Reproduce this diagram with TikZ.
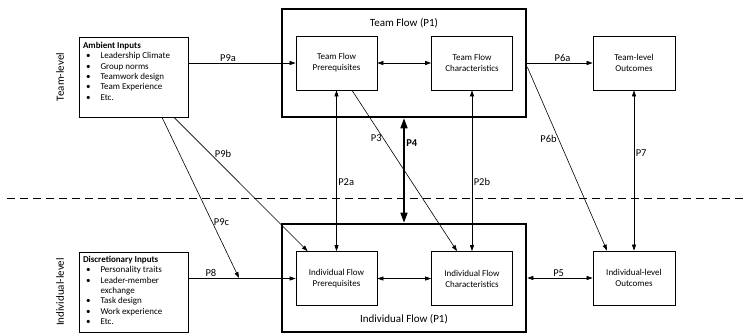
\documentclass[tikz,border=0pt]{standalone}
\usepackage{fontspec}
\setmainfont{Carlito}
\usetikzlibrary{arrows.meta}
\tikzstyle{flowBox}=[shape = rectangle, draw, line width = 0.7pt, minimum width = 81pt, minimum height = 54pt, inner sep = 0pt, align = center, font = \fontsize{9}{11}\selectfont]
\tikzstyle{bigBox}=[shape = rectangle, draw, line width = 2.6pt, minimum width = 244pt, minimum height = 108pt, inner sep = 0pt]
\tikzstyle{inputBox}=[shape = rectangle, draw, line width = 0.7pt, minimum width = 109pt, minimum height = 80pt, inner sep = 4pt, font = \fontsize{9}{10.4}\selectfont]
\newcommand{\bitem}{\makebox[17.5pt][l]{\hspace{3pt}\textbullet}}

\begin{document}
\begin{tikzpicture}[x = 1pt, y = -1pt]
\tikzstyle{arr}=[line width = 0.6pt, -{Triangle[length = 6pt, width = 4pt]}]
\tikzstyle{biarr}=[line width = 0.6pt, {Triangle[length = 6pt, width = 4pt]}-{Triangle[length = 6pt, width = 4pt]}]
\tikzstyle{lbl}=[font = \fontsize{10.5}{12}\selectfont, inner sep = 1.5pt]
\tikzstyle{title}=[font = \fontsize{11}{13}\selectfont]
\tikzstyle{levelStyle}=[font = \fontsize{11}{13}\selectfont, rotate = 90]
\useasboundingbox (0,0) rectangle (743,335);
% levels
\node[levelStyle] (tlev) at (60,77) {Team-level};
\node[levelStyle] (ilev) at (60,292) {Individual-level};
\coordinate (dashL) at (7,198);
\coordinate (dashR) at (743,198);
\draw[line width = 0.6pt, dash pattern = on 8pt off 5pt] (dashL) -- (dashR);
% inputs
\node[inputBox] (amb) at (133.5,77) {\parbox[c][72pt][t]{101pt}{\raggedright\vspace*{1pt}\textbf{Ambient Inputs}\\
\bitem Leadership Climate\\
\bitem Group norms\\
\bitem Teamwork design\\
\bitem Team Experience\\
\bitem Etc.}};
\node[inputBox] (disc) at (133.5,292) {\parbox[c][72pt][t]{101pt}{\raggedright\textbf{Discretionary Inputs}\\
\bitem Personality traits\\
\bitem Leader-member\\
\hspace*{17.5pt}exchange\\
\bitem Task design\\
\bitem Work experience\\
\bitem Etc.}};
% flow boxes
\node[bigBox] (tflow) at (404,63) {};
\node[bigBox] (iflow) at (404,278) {};
\node[title] (tftitle) at (404,23) {Team Flow (P1)};
\node[title] (iftitle) at (404,319) {Individual Flow (P1)};
\node[flowBox] (tfp) at (336.5,63) {Team Flow\\Prerequisites};
\node[flowBox] (tfc) at (472,63) {Team Flow\\Characteristics};
\node[flowBox] (ifp) at (336.5,278.5) {Individual Flow\\Prerequisites};
\node[flowBox] (ifc) at (472,278.5) {Individual Flow\\Characteristics};
% outcomes
\node[flowBox, minimum width = 82pt] (tlo) at (634,63) {Team-level\\Outcomes};
\node[flowBox, minimum width = 82pt] (ilo) at (634,278) {Individual-level\\Outcomes};
% connectors
\coordinate (p9cEnd) at (239,278);
\draw[arr] (amb.east |- tfp.west) -- node[lbl, above, pos = 0.37] {P9a} (tfp.west);
\draw[arr] (disc.east |- ifp.west) -- node[lbl, above, pos = 0.21] {P8} (ifp.west);
\draw[arr] ([xshift = 28.5pt]amb.south) -- node[lbl, right, pos = 0.65] {P9c} (p9cEnd);
\draw[arr] ([xshift = 40.5pt]amb.south) -- node[lbl, right, pos = 0.27, xshift = 3pt] {P9b} ([xshift = 12pt]ifp.north west);
\draw[biarr] (tfp) -- (tfc);
\draw[biarr] (ifp) -- (ifc);
\draw[biarr] (tfp.south) -- node[lbl, right, pos = 0.57] {P2a} (ifp.north);
\draw[biarr] (tfc.south) -- node[lbl, right, pos = 0.57] {P2b} (ifc.north);
\draw[arr] ([xshift = 15.5pt]tfp.south) -- node[lbl, left, pos = 0.3] {P3} ([xshift = -15pt]ifc.north);
\draw[line width = 1.6pt, {Triangle[length = 10pt, width = 7pt]}-{Triangle[length = 10pt, width = 7pt]}] (tflow.south) -- node[lbl, right, pos = 0.24, font = \fontsize{10.5}{12}\selectfont\bfseries] {P4} (iflow.north);
\draw[arr] (tflow.east |- tlo.west) -- node[lbl, above, pos = 0.54] {P6a} (tlo.west);
\draw[arr] ([yshift = -4pt]tflow.east) -- node[lbl, left, pos = 0.39] {P6b} ([xshift = -27pt]ilo.north);
\draw[biarr] (tlo.south) -- node[lbl, right, pos = 0.39] {P7} (ilo.north);
\draw[biarr] (iflow.east |- ilo.west) -- node[lbl, above, pos = 0.48] {P5} (ilo.west);
\end{tikzpicture}
\end{document}
